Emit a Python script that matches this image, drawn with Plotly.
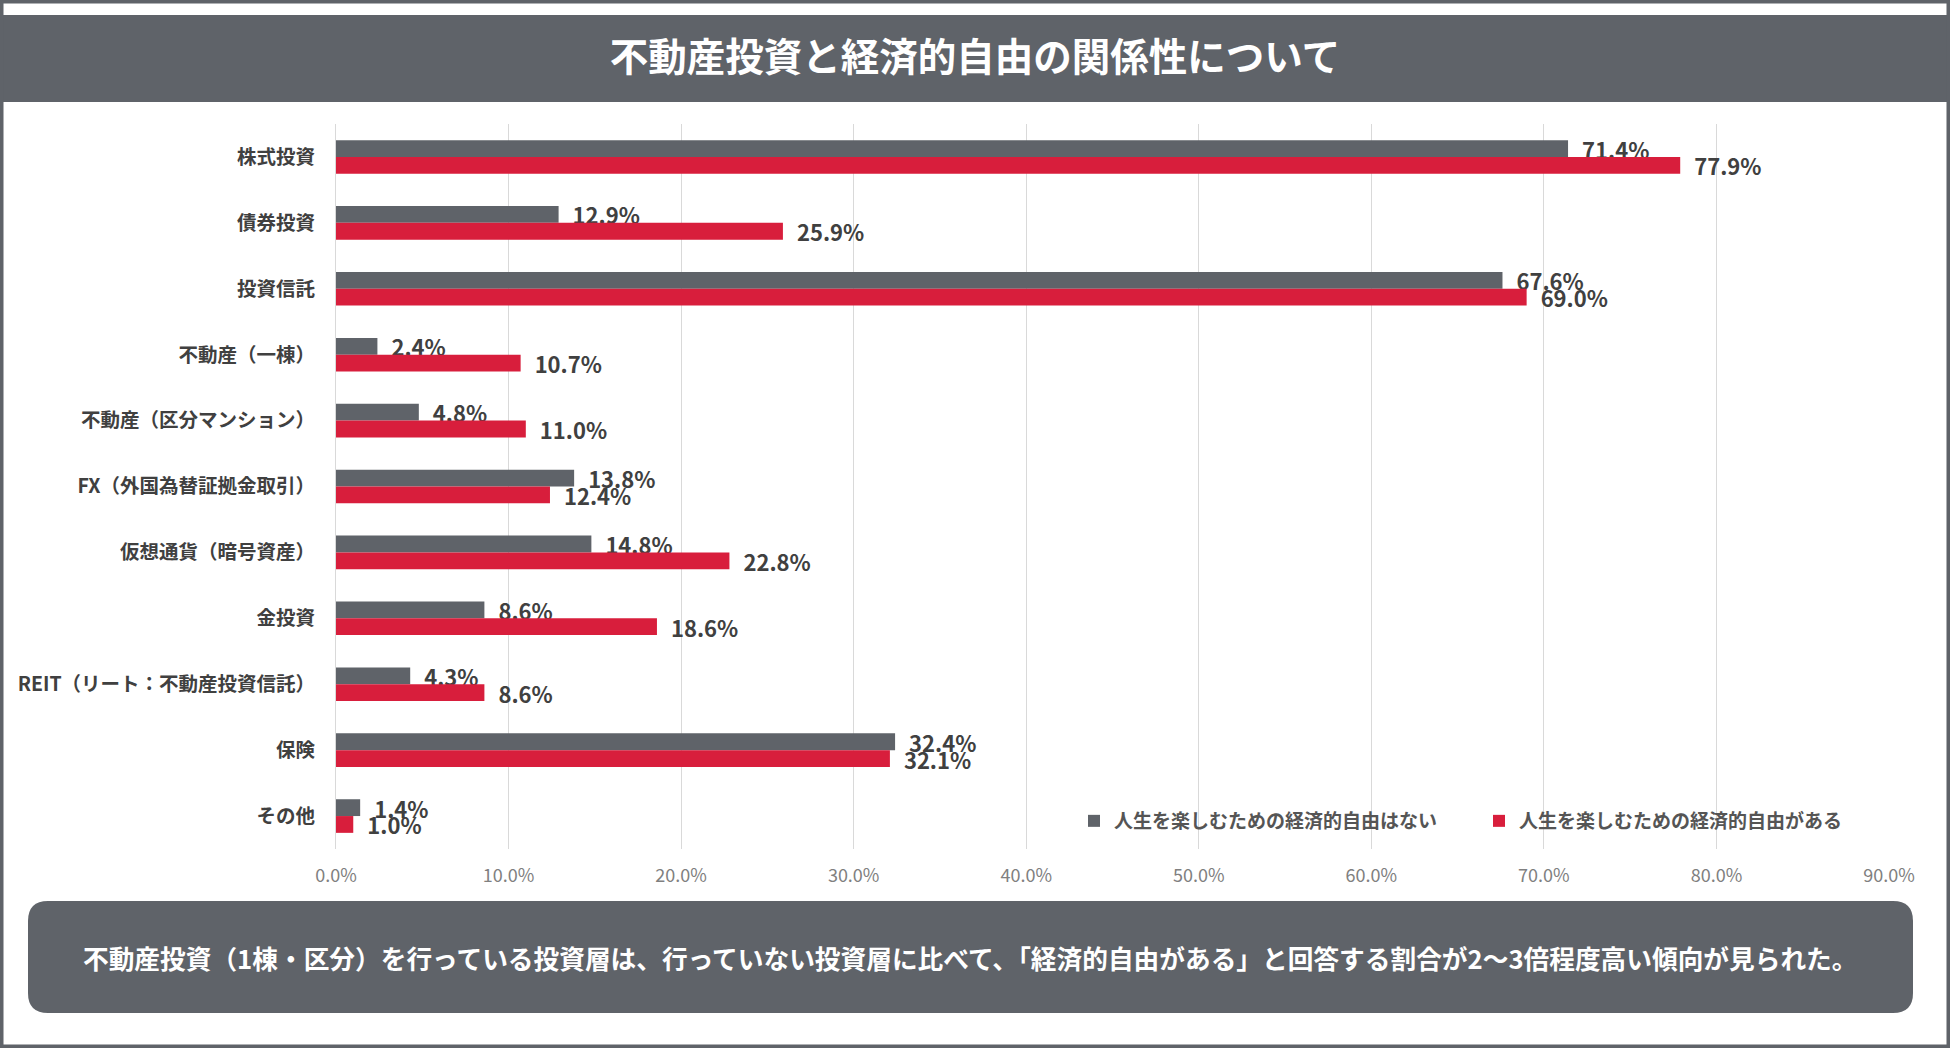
import plotly.graph_objects as go

# categories top to bottom
categories = ["株式投資", "債券投資", "投資信託", "不動産（一棟）", "不動産（区分マンション）",
              "FX（外国為替証拠金取引）", "仮想通貨（暗号資産）", "金投資",
              "REIT（リート：不動産投資信託）", "保険", "その他"]
no_freedom = [71.4, 12.9, 67.6, 2.4, 4.8, 13.8, 14.8, 8.6, 4.3, 32.4, 1.4]
has_freedom = [77.9, 25.9, 69.0, 10.7, 11.0, 12.4, 22.8, 18.6, 8.6, 32.1, 1.0]
series_names = ["人生を楽しむための経済的自由はない", "人生を楽しむための経済的自由がある"]
x_ticks = [0, 10, 20, 30, 40, 50, 60, 70, 80, 90]
x_ticklabels = ["%.1f%%" % t for t in x_ticks]

title_text = "不動産投資と経済的自由の関係性について"
note_text = "不動産投資（1棟・区分）を行っている投資層は、行っていない投資層に比べて、「経済的自由がある」と回答する割合が2〜3倍程度高い傾向が見られた。"

GRAY = "#5f6369"
RED = "#d81e3c"
FONT = "Noto Sans CJK JP"

W, H = 1950, 1048
L, R, T, B = 336, 1889, 124, 849  # plot area in pixels


def px_x(p):
    return (p - L) / (R - L)


def px_y(p):
    return (B - p) / (B - T)


fig = go.Figure()
for name, vals, col in [(series_names[0], no_freedom, GRAY), (series_names[1], has_freedom, RED)]:
    fig.add_trace(go.Bar(
        y=categories, x=vals, name=name, orientation="h",
        marker=dict(color=col, line=dict(width=0)),
        texttemplate="\u2002%{x:.1f}%", textposition="outside",
        textfont=dict(family=FONT, size=22, color="#404040", weight="bold"),
        constraintext="none", cliponaxis=False,
    ))

# rounded note box
bx0, bx1, by0, by1, rad = px_x(28), px_x(1913), px_y(901), px_y(1013), 20
rx, ry = rad / (R - L), rad / (B - T)
box_path = ("M {a},{t} L {b},{t} Q {x1},{t} {x1},{t2} L {x1},{b2} Q {x1},{bt} {b},{bt} "
            "L {a},{bt} Q {x0},{bt} {x0},{b2} L {x0},{t2} Q {x0},{t} {a},{t} Z").format(
    a=bx0 + rx, b=bx1 - rx, t=by0, t2=by0 - ry, b2=by1 + ry, bt=by1, x0=bx0, x1=bx1)

shapes = [
    # outer frame
    dict(type="rect", xref="paper", yref="paper", x0=px_x(1), x1=px_x(W - 1), y0=px_y(1), y1=px_y(H - 1),
         line=dict(color=GRAY, width=5), fillcolor="rgba(0,0,0,0)", layer="above"),
    # title banner
    dict(type="rect", xref="paper", yref="paper", x0=px_x(3), x1=px_x(W - 3), y0=px_y(15), y1=px_y(102),
         line=dict(width=0), fillcolor=GRAY, layer="below"),
    dict(type="path", xref="paper", yref="paper", path=box_path,
         line=dict(width=0), fillcolor=GRAY, layer="below"),
]

annotations = [
    dict(text=note_text, xref="paper", yref="paper", x=px_x(970), y=px_y(957), showarrow=False,
         xanchor="center", yanchor="middle",
         font=dict(family=FONT, size=25.7, color="white", weight="bold")),
]

fig.update_layout(
    width=W, height=H,
    margin=dict(l=L, r=W - R, t=T, b=H - B),
    paper_bgcolor="white", plot_bgcolor="white",
    barmode="group", bargap=0.49, bargroupgap=0,
    title=dict(text=title_text, x=0.5, xanchor="center", y=1 - 58 / H, yanchor="middle",
               font=dict(family=FONT, size=38.5, color="white", weight="bold")),
    font=dict(family=FONT),
    shapes=shapes, annotations=annotations,
    showlegend=True,
    legend=dict(orientation="h", x=px_x(1074), xanchor="left", y=px_y(821), yanchor="middle",
                bgcolor="rgba(0,0,0,0)", entrywidth=360, entrywidthmode="pixels",
                font=dict(family=FONT, size=19, color="#555555", weight="bold")),
    xaxis=dict(range=[0, 90], tickvals=x_ticks, ticktext=x_ticklabels, showgrid=True,
               gridcolor="#d9d9d9", gridwidth=1, zeroline=False, showline=False,
               ticklabelstandoff=14, fixedrange=True,
               tickfont=dict(family=FONT, size=18, color="#808080")),
    yaxis=dict(autorange="reversed", showgrid=False, zeroline=False, showline=True,
               linecolor="#d9d9d9", linewidth=1, ticklabelstandoff=16,
               tickfont=dict(family=FONT, size=19.5, color="#404040", weight="bold")),
)

# drop the page's default body margin so the figure sits at the window's corner
fig.write_html("out.html", config={"displayModeBar": False},
               post_script="document.body.style.margin='0';")
